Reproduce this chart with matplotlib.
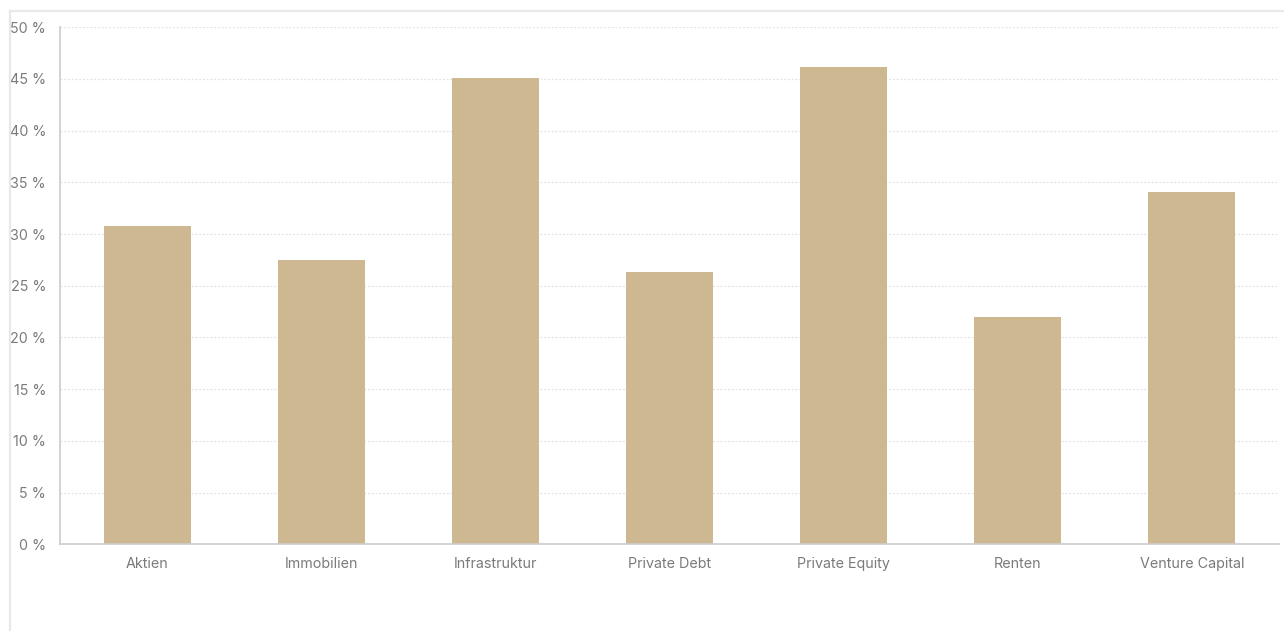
import matplotlib
matplotlib.use("Agg")
import matplotlib.pyplot as plt
from matplotlib.lines import Line2D
from matplotlib.ticker import FuncFormatter

categories = ["Aktien", "Immobilien", "Infrastruktur", "Private Debt",
              "Private Equity", "Renten", "Venture Capital"]
values = [30.8, 27.5, 45.05, 26.3, 46.15, 21.95, 34.05]
yticks = [0, 5, 10, 15, 20, 25, 30, 35, 40, 45, 50]

plt.rcParams['font.family'] = ['Inter', 'DejaVu Sans']

W, H = 1284, 631
fig = plt.figure(figsize=(W / 100, H / 100), dpi=100)
ax = fig.add_axes([60 / W, (H - 544.2) / H, (1279 - 60) / W, (544.2 - 27.3) / H])

x = list(range(len(categories)))
ax.bar(x, values, width=0.5, color="#CDB891", zorder=3)

ax.set_xlim(-0.5, len(categories) - 0.5)
ax.set_ylim(0, 50)
ax.set_yticks(yticks)
ax.yaxis.set_major_formatter(FuncFormatter(lambda v, p: f"{int(v)} %"))
ax.set_xticks(x)
ax.set_xticklabels(categories)

ax.grid(axis="y", color="#e2e2e2", linestyle=(0, (1.5, 1.5)), linewidth=0.9, zorder=0)
ax.grid(axis="x", visible=False)

for s in ["top", "right"]:
    ax.spines[s].set_visible(False)
for s in ["left", "bottom"]:
    ax.spines[s].set_color("#cccccc")
    ax.spines[s].set_linewidth(1.2)
    ax.spines[s].set_zorder(4)

ax.tick_params(axis="y", length=0, pad=10, labelsize=10.3, labelcolor="#7a7a7a")
ax.tick_params(axis="x", length=0, pad=9.5, labelsize=10.3, labelcolor="#7a7a7a")

# outer frame (left and top edges)
fig.add_artist(Line2D([10.5 / W, 10.5 / W], [0, (H - 10.5) / H], transform=fig.transFigure,
                      color="#e8e8e8", linewidth=1.6))
fig.add_artist(Line2D([10.5 / W, 1], [(H - 10.5) / H, (H - 10.5) / H], transform=fig.transFigure,
                      color="#e8e8e8", linewidth=1.6))

fig.savefig("out.png", dpi=100, facecolor="white")
